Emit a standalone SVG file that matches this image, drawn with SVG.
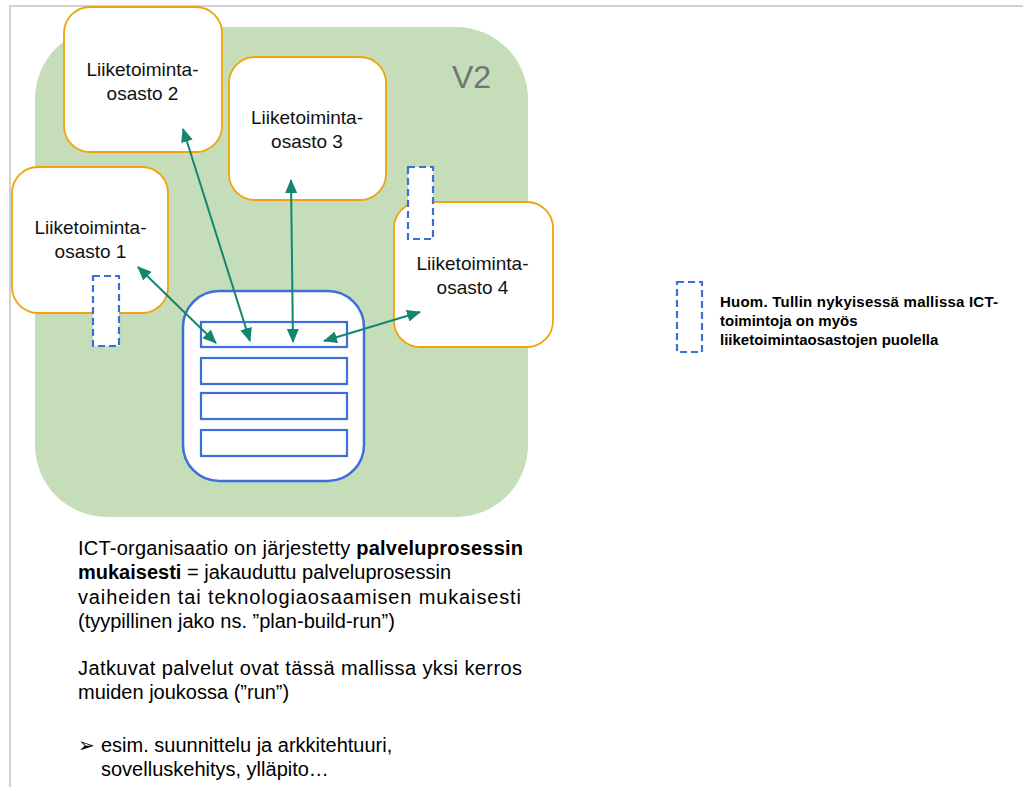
<svg xmlns="http://www.w3.org/2000/svg" width="1023" height="787" viewBox="0 0 1023 787">
<style>
.node{fill:#fff;stroke:#F0A30A;stroke-width:1.8}
.nt{font-family:"Liberation Sans",Arial,sans-serif;font-size:19px;fill:#111;text-anchor:middle}
.dash{fill:#fff;stroke:#3D6FDB;stroke-width:2.2;stroke-dasharray:7 4}
.ict{fill:#fff;stroke:#3D6FDB;stroke-width:2.5}
.row{fill:#fff;stroke:#3D6FDB;stroke-width:2.2}
.conn{stroke:#138670;stroke-width:2;fill:none;marker-start:url(#ah);marker-end:url(#ah)}
.body{font-family:"Liberation Sans",Arial,sans-serif;font-size:20px;fill:#000}
.leg{font-family:"Liberation Sans",Arial,sans-serif;font-size:15px;font-weight:bold;fill:#000}
</style>
<defs>
<marker id="ah" viewBox="0 0 14 12" refX="13" refY="6" markerWidth="14" markerHeight="12" markerUnits="userSpaceOnUse" orient="auto-start-reverse">
<path d="M0,0 L14,6 L0,12 z" fill="#138670"/>
</marker>
</defs>
<rect width="1023" height="787" fill="#fff"/>
<g id="frame" stroke="#d0d0d0" stroke-width="2" fill="none">
<path d="M10,787 V6 H1023"/>
</g>
<g id="v2">
<rect x="35" y="27" width="493" height="490" rx="72" fill="#C6DDB9"/>
<text x="452" y="88" font-family="Liberation Sans,Arial,sans-serif" font-size="32" fill="#737373">V2</text>
</g>
<g id="node2">
<rect class="node" x="64" y="7" width="158" height="145" rx="26"/>
<text class="nt" x="142.5" y="76">Liiketoiminta-</text>
<text class="nt" x="142.5" y="100">osasto 2</text>
</g>
<g id="node3">
<rect class="node" x="229" y="57" width="157" height="143" rx="26"/>
<text class="nt" x="307" y="124">Liiketoiminta-</text>
<text class="nt" x="307" y="148">osasto 3</text>
</g>
<g id="node1">
<rect class="node" x="12" y="167" width="156" height="146" rx="26"/>
<text class="nt" x="90.5" y="234">Liiketoiminta-</text>
<text class="nt" x="90.5" y="258">osasto 1</text>
</g>
<g id="node4">
<rect class="node" x="394" y="202" width="159" height="145" rx="26"/>
<text class="nt" x="472.5" y="270">Liiketoiminta-</text>
<text class="nt" x="472.5" y="294">osasto 4</text>
</g>
<g id="dashed">
<rect class="dash" x="93" y="276" width="26" height="70"/>
<rect class="dash" x="408" y="167" width="25" height="72"/>
</g>
<g id="ict">
<rect class="ict" x="183" y="291" width="181" height="190" rx="36"/>
<rect class="row" x="201" y="322" width="146" height="25"/>
<rect class="row" x="201" y="358" width="146" height="26"/>
<rect class="row" x="201" y="393" width="146" height="26"/>
<rect class="row" x="201" y="430" width="146" height="26"/>
</g>
<g id="connectors">
<line class="conn" x1="138" y1="267" x2="216" y2="343"/>
<line class="conn" x1="183" y1="129" x2="250" y2="341"/>
<line class="conn" x1="291" y1="180" x2="293" y2="342"/>
<line class="conn" x1="324" y1="341" x2="420" y2="312"/>
</g>
<g id="legend">
<rect class="dash" x="677" y="282" width="25" height="70"/>
<text class="leg" x="720" y="307" textLength="278" lengthAdjust="spacing">Huom. Tullin nykyisessä mallissa ICT-</text>
<text class="leg" x="720" y="326">toimintoja on myös</text>
<text class="leg" x="720" y="345">liiketoimintaosastojen puolella</text>
</g>
<g id="description">
<text class="body" x="78" y="555" textLength="445" lengthAdjust="spacing">ICT-organisaatio on järjestetty <tspan font-weight="bold">palveluprosessin</tspan></text>
<text class="body" x="78" y="579"><tspan font-weight="bold">mukaisesti</tspan> = jakauduttu  palveluprosessin</text>
<text class="body" x="78" y="604" textLength="443" lengthAdjust="spacing">vaiheiden tai teknologiaosaamisen mukaisesti</text>
<text class="body" x="78" y="628">(tyypillinen jako ns. ”plan-build-run”)</text>
<text class="body" x="78" y="675" textLength="444" lengthAdjust="spacing">Jatkuvat palvelut ovat tässä mallissa yksi kerros</text>
<text class="body" x="78" y="699">muiden joukossa (”run”)</text>
<text class="body" x="78" y="752">➢</text>
<text class="body" x="101" y="752">esim. suunnittelu ja arkkitehtuuri,</text>
<text class="body" x="101" y="776">sovelluskehitys, ylläpito…</text>
</g>
</svg>
